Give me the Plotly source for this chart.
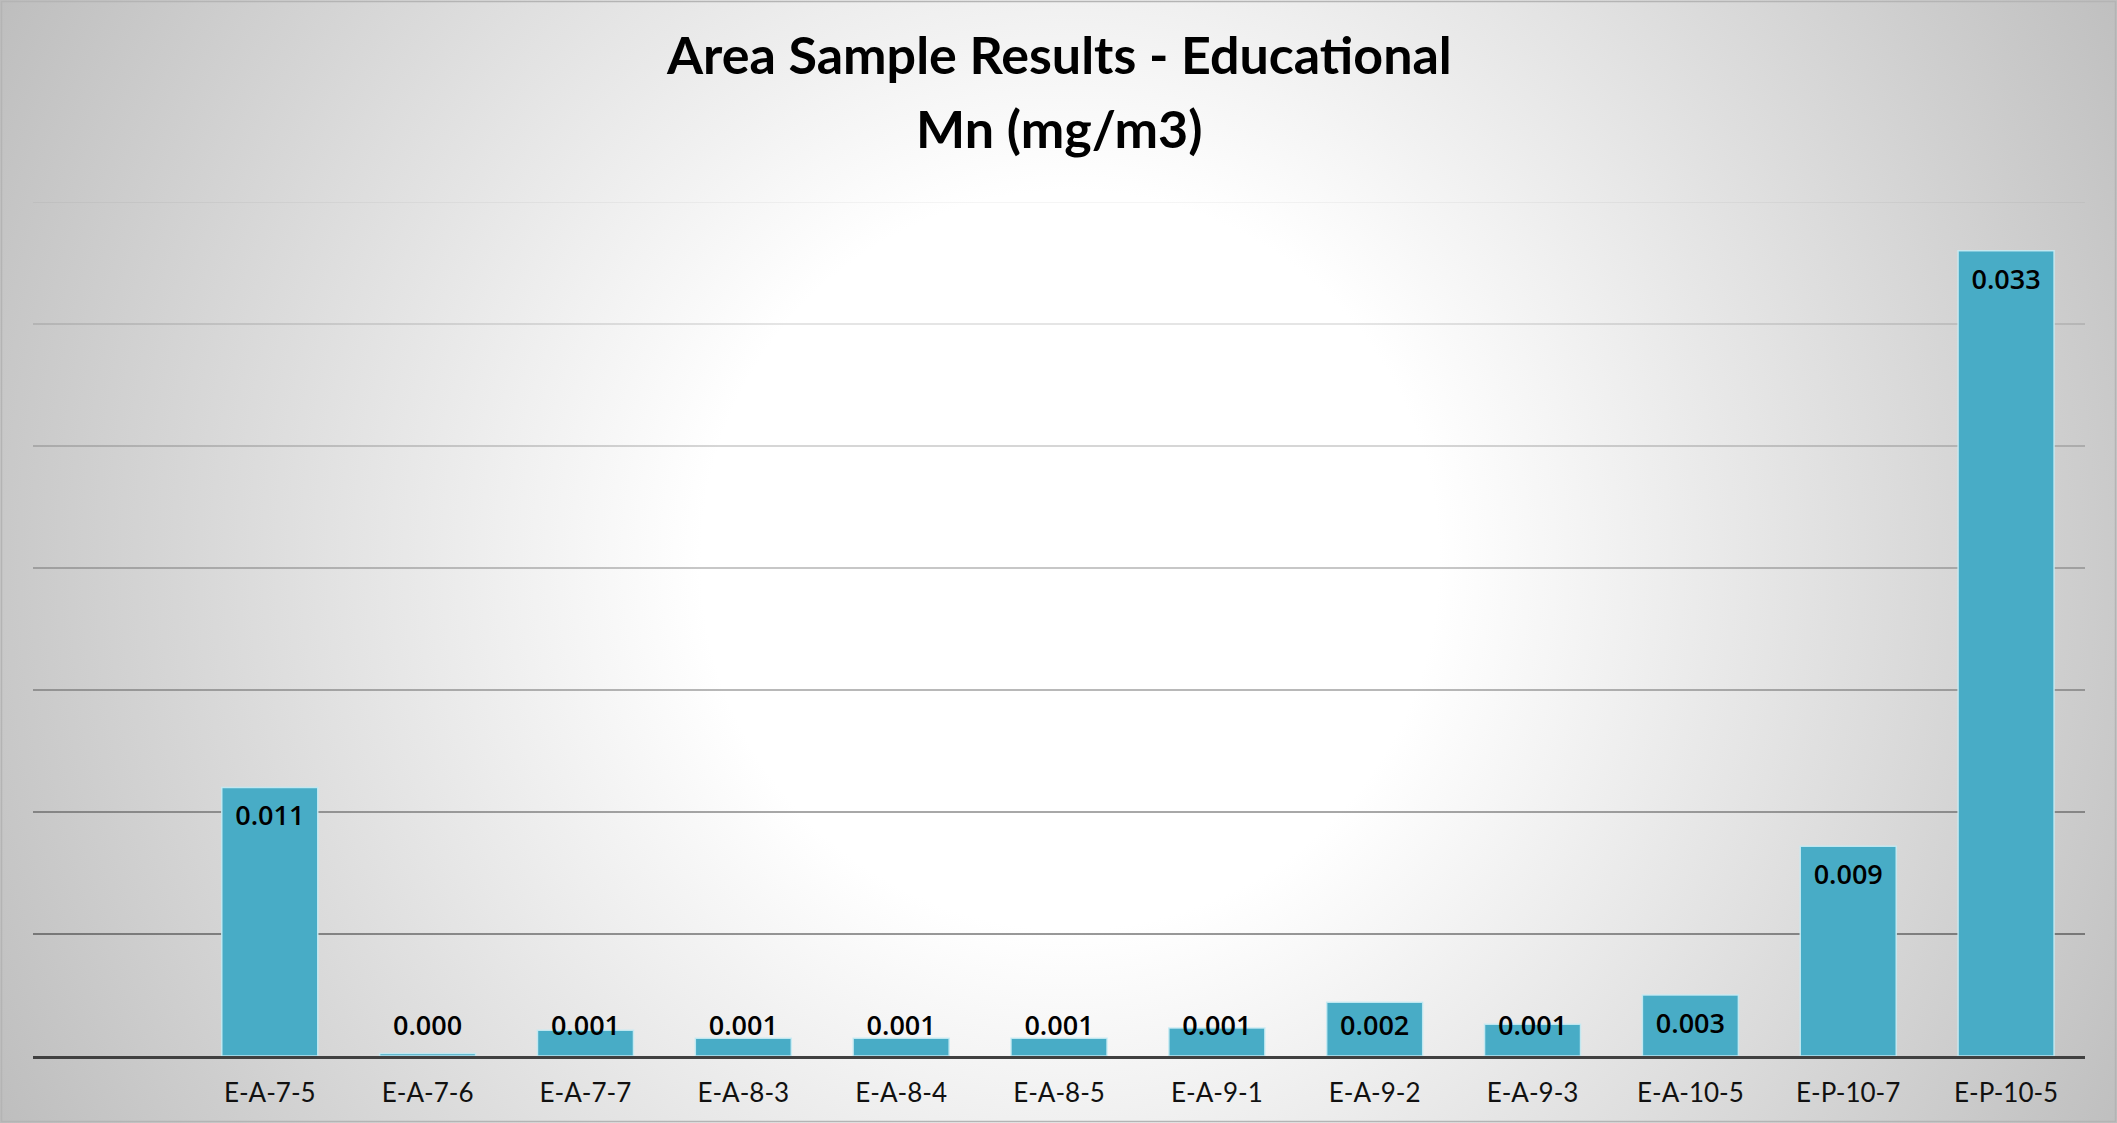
import base64
import plotly.graph_objects as go

# ---- data ----
categories = ["", "E-A-7-5", "E-A-7-6", "E-A-7-7", "E-A-8-3", "E-A-8-4", "E-A-8-5",
              "E-A-9-1", "E-A-9-2", "E-A-9-3", "E-A-10-5", "E-P-10-7", "E-P-10-5"]
mn_values = [None, 0.011, 0.0001, 0.00106, 0.00073, 0.00073, 0.00073,
             0.00115, 0.0022, 0.0013, 0.0025, 0.0086, 0.033]
label_text = ["", "0.011", "0.000", "0.001", "0.001", "0.001", "0.001",
              "0.001", "0.002", "0.001", "0.003", "0.009", "0.033"]
y_max = 0.035
grid_values = [0.005, 0.010, 0.015, 0.020, 0.025, 0.030, 0.035]
title_line1 = "Area Sample Results - Educational"
title_line2 = "Mn (mg/m3)"

W, H = 2117, 1123
ML, MR, MT, MB = 33, 32, 202, 67
plot_h = H - MT - MB
plot_w = W - ML - MR
units_per_px = y_max / plot_h

x_pos = list(range(len(categories)))

# label positions: inside end, clamped near baseline for short bars
lab_x, lab_y, lab_t = [], [], []
for xi, v, t in zip(x_pos, mn_values, label_text):
    if v is None:
        continue
    lab_x.append(xi)
    lab_y.append(max(v - 31 * units_per_px, 28 * units_per_px))
    lab_t.append(t)

# background radial gradient as svg
svg = f'''<svg xmlns="http://www.w3.org/2000/svg" width="{W}" height="{H}">
<defs><radialGradient id="g" gradientUnits="userSpaceOnUse" cx="1070" cy="560" r="1230">
<stop offset="0" stop-color="#ffffff"/><stop offset="0.3" stop-color="#ffffff"/>
<stop offset="1" stop-color="#bcbcbc"/></radialGradient></defs>
<rect x="0" y="0" width="{W}" height="{H}" fill="url(#g)"/>
<rect x="1.5" y="1.5" width="{W-3}" height="{H-3}" fill="none" stroke="#b4b4b4" stroke-width="1.5"/>
</svg>'''
bg_uri = "data:image/svg+xml;base64," + base64.b64encode(svg.encode()).decode()

fig = go.Figure()
fig.add_trace(go.Bar(
    x=x_pos, y=mn_values,
    marker=dict(color="#48ACC6", line=dict(color="rgba(200,235,243,0.9)", width=1.5)),
    hoverinfo="skip", showlegend=False,
))
fig.add_trace(go.Scatter(
    x=lab_x, y=lab_y, text=lab_t, mode="text",
    textposition="middle center",
    textfont=dict(family="Open Sans", size=27, color="#000000", weight=600),
    hoverinfo="skip", showlegend=False,
))

shapes = []
for i, gv in enumerate(grid_values):
    alpha = 0.40 - i * 0.06
    shapes.append(dict(type="line", xref="paper", yref="y", x0=0, x1=1, y0=gv, y1=gv,
                       line=dict(color=f"rgba(0,0,0,{alpha:.3f})", width=2), layer="below"))

title_font = dict(family="Lato", size=52, color="#000000", weight="bold")

fig.update_layout(
    width=W, height=H,
    margin=dict(l=ML, r=MR, t=MT, b=MB, pad=0),
    paper_bgcolor="#ffffff",
    plot_bgcolor="rgba(0,0,0,0)",
    bargap=0.392,
    shapes=shapes,
    images=[dict(source=bg_uri, xref="paper", yref="paper",
                 x=-ML / plot_w, y=(plot_h + MT) / plot_h,
                 sizex=W / plot_w, sizey=H / plot_h,
                 xanchor="left", yanchor="top", sizing="stretch", layer="below")],
    annotations=[
        dict(text=title_line1, xref="paper", yref="paper", x=0.5,
             y=(plot_h + MT - 54) / plot_h, xanchor="center", yanchor="middle",
             showarrow=False, font=title_font),
        dict(text=title_line2, xref="paper", yref="paper", x=0.5,
             y=(plot_h + MT - 128) / plot_h, xanchor="center", yanchor="middle",
             showarrow=False, font=title_font),
    ],
    xaxis=dict(
        tickmode="array", tickvals=x_pos, ticktext=categories,
        range=[-0.5, len(categories) - 0.5],
        showline=True, linecolor="#404040", linewidth=3,
        ticks="outside", ticklen=12, tickcolor="rgba(0,0,0,0)",
        tickfont=dict(family="Lato", size=26, color="#111111"),
        showgrid=False, zeroline=False,
    ),
    yaxis=dict(range=[0, y_max], showticklabels=False, showgrid=False,
               zeroline=False, ticks=""),
)

fig.write_html("out.html")
